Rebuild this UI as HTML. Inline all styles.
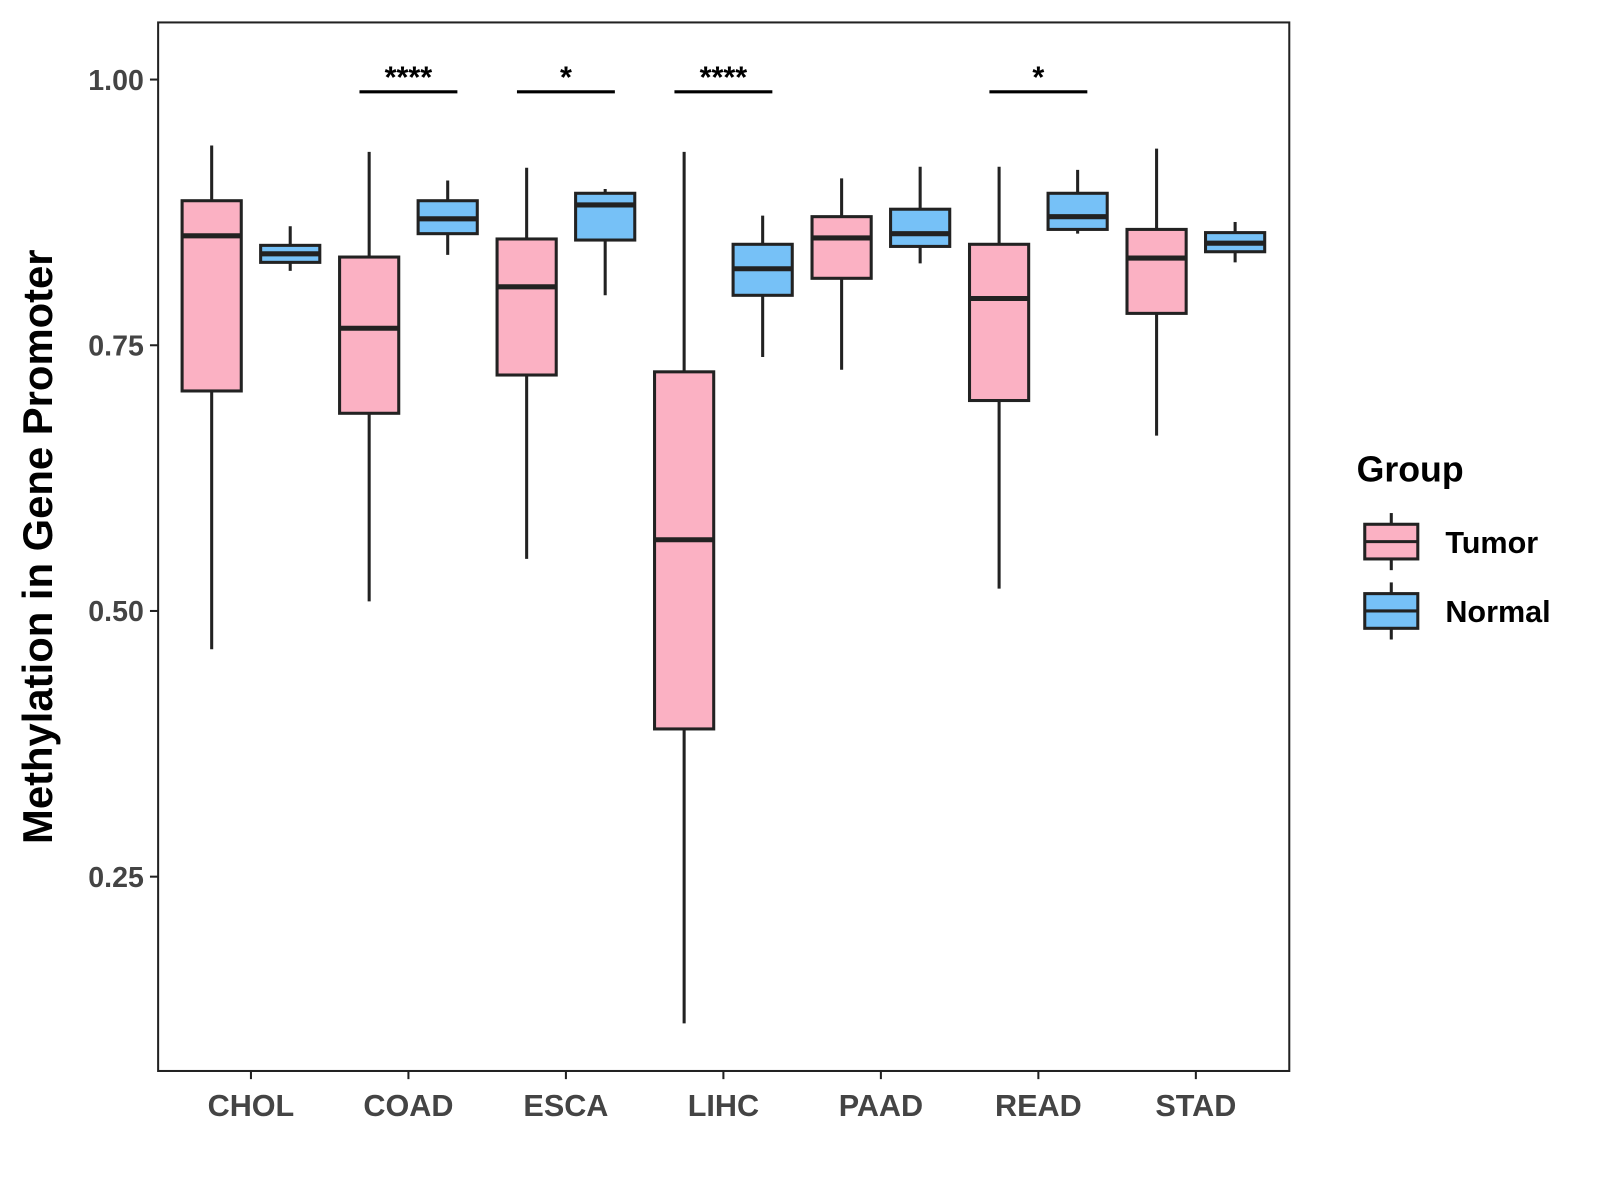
<!DOCTYPE html>
<html><head><meta charset="utf-8"><style>
body{margin:0;background:#fff}
svg{display:block;font-family:"Liberation Sans",Arial,sans-serif}
</style></head><body>
<svg id="chart" width="1600" height="1200" viewBox="0 0 1568.6 1176.5">
<rect x="0" y="0" width="1600" height="1200" fill="#fff"/>
<g id="plot"></g>
<rect x="155" y="22" width="1109" height="1028" fill="none" stroke="#222" stroke-width="2"/>
<text x="51" y="536" transform="rotate(-90 51 536)" text-anchor="middle" font-size="41" font-weight="bold">Methylation in Gene Promoter</text>
<g>
<text x="1330" y="472" font-size="35" font-weight="bold">Group</text>
<g>
<line x1="1364" y1="503" x2="1364" y2="559" stroke="#222" stroke-width="3"/>
<rect x="1338" y="514" width="52" height="34" fill="#FBB1C3" stroke="#222" stroke-width="3"/>
<line x1="1338" y1="531" x2="1390" y2="531" stroke="#222" stroke-width="3"/>
<text x="1417" y="542" font-size="30" font-weight="bold">Tumor</text></g>
<g>
<line x1="1364" y1="571" x2="1364" y2="627" stroke="#222" stroke-width="3"/>
<rect x="1338" y="582" width="52" height="34" fill="#76C1F7" stroke="#222" stroke-width="3"/>
<line x1="1338" y1="599" x2="1390" y2="599" stroke="#222" stroke-width="3"/>
<text x="1417" y="610" font-size="30" font-weight="bold">Normal</text></g>
</g>
</svg>
<script>
const categories=["CHOL","COAD","ESCA","LIHC","PAAD","READ","STAD"];
// [low, q1, median, q3, high]
const tumorStats=[[0.464,0.707,0.853,0.886,0.938],[0.509,0.686,0.766,0.833,0.932],[0.549,0.722,0.805,0.850,0.917],[0.112,0.389,0.567,0.725,0.932],[0.727,0.813,0.851,0.871,0.907],[0.521,0.698,0.794,0.845,0.918],[0.665,0.780,0.832,0.859,0.935]];
const normalStats=[[0.820,0.828,0.836,0.844,0.862],[0.835,0.855,0.869,0.886,0.905],[0.797,0.849,0.882,0.893,0.897],[0.739,0.797,0.822,0.845,0.872],[0.827,0.843,0.855,0.878,0.918],[0.855,0.859,0.871,0.893,0.915],[0.828,0.838,0.846,0.856,0.866]];
const yTicks=[0.25,0.5,0.75,1.0];
const yTickLabels=["0.25","0.50","0.75","1.00"];
const sigLabels=["","****","*","****","","*",""];
const NS="http://www.w3.org/2000/svg";
const g=document.getElementById('plot');
function y(v){return 78+(1-v)*1042;}
function x(i){return 246+i*154.4;}
function mk(t,a,p){const e=document.createElementNS(NS,t);for(const k in a)e.setAttribute(k,a[k]);(p||g).appendChild(e);return e;}
yTicks.forEach((t,i)=>{
 const l=mk('line',{x1:147,x2:155,y1:y(t),y2:y(t),stroke:'#222','stroke-width':2});
 
 
 const tx=mk('text',{x:141,y:y(t)+10,'text-anchor':'end','font-size':28,'font-weight':'bold',fill:'#444'});
 tx.textContent=yTickLabels[i];
 
 
});
categories.forEach((c,i)=>{
 const l=mk('line',{x1:x(i),x2:x(i),y1:1050,y2:1058,stroke:'#222','stroke-width':2});
 
 
 const tx=mk('text',{x:x(i),y:1094,'text-anchor':'middle','font-size':30,'font-weight':'bold',fill:'#444'});
 tx.textContent=c;
 
 
 [[tumorStats[i],-38.5,'#FBB1C3','tumor'],[normalStats[i],38.5,'#76C1F7','normal']].forEach(([s,off,col,nm])=>{
  const cx=x(i)+off;
  const bg=mk('g',{});
  
  
  mk('line',{x1:cx,x2:cx,y1:y(s[0]),y2:y(s[4]),stroke:'#222','stroke-width':3},bg);
  mk('rect',{x:cx-29,y:y(s[3]),width:58,height:y(s[1])-y(s[3]),fill:col,stroke:'#222','stroke-width':3},bg);
  mk('line',{x1:cx-29,x2:cx+29,y1:y(s[2]),y2:y(s[2]),stroke:'#222','stroke-width':5},bg);
 });
 if(sigLabels[i]){
  const sg=mk('g',{});
  
  
  mk('line',{x1:x(i)-48,x2:x(i)+48,y1:90,y2:90,stroke:'#000','stroke-width':3},sg);
  const st=mk('text',{x:x(i),y:86,'text-anchor':'middle','font-size':30,'font-weight':'bold'},sg);
  st.textContent=sigLabels[i];
 }
});
</script>
</body></html>
